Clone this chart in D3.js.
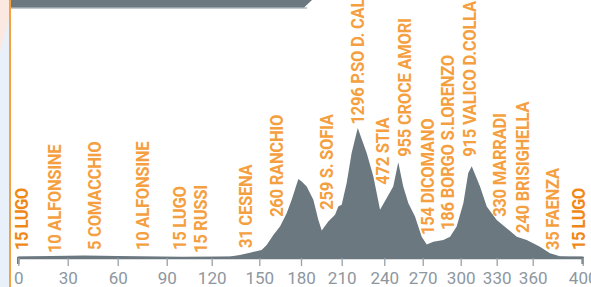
<!DOCTYPE html>
<html>
<head>
<meta charset="utf-8">
<script src="https://cdn.jsdelivr.net/npm/d3@7"></script>
<style>
  html, body { margin: 0; padding: 0; background: #fff; }
  svg { display: block; }
</style>
</head>
<body>
<svg id="chart" width="591" height="287"></svg>
<script>
// ---------- DATA ----------
// x-axis tick values (km)
const tickKm = [0, 30, 60, 90, 120, 150, 180, 210, 240, 270, 300, 330, 360, 400];
const tickLabels = ["0", "30", "60", "90", "120", "150", "180", "210", "240", "270", "300", "330", "360", "400"];

// elevation profile: distance (km) and altitude (m)
const profileKm = [0, 20, 40, 60, 80, 100, 120, 131.5, 137.8, 144.1, 151.7, 155.3, 160.1, 164.9, 169.7, 173.3,
  178.1, 180.5, 184.2, 189.1, 192.8, 195.3, 200.1, 205.1, 207.5, 210, 213.5, 217, 221.3, 227.6, 232.3,
  237, 241.9, 247, 250.9, 254.8, 258.8, 264, 269.2, 273.2, 278.4, 286.3, 291.6, 296.8, 302.2, 306.3,
  309.2, 316.1, 321.7, 330, 338.3, 346.7, 355, 365.8, 373.8, 381.8, 390, 400];
const profileElev = [15, 20, 25, 20, 15, 10, 12, 15, 30, 53, 80, 130, 230, 313, 447, 580,
  787, 763, 713, 580, 380, 275, 363, 430, 513, 530, 747, 1047, 1296, 1047, 813,
  480, 597, 713, 955, 713, 547, 413, 213, 135, 163, 180, 213, 313, 547, 847,
  915, 713, 513, 380, 297, 213, 180, 113, 47, 18, 15, 15];

// place labels
const placeNames = ["15 LUGO", "10 ALFONSINE", "5 COMACCHIO", "10 ALFONSINE", "15 LUGO", "15 RUSSI",
  "31 CESENA", "260 RANCHIO", "259 S. SOFIA", "1296 P.SO D. CALLA", "472 STIA", "955 CROCE AMORI",
  "154 DICOMANO", "186 BORGO S.LORENZO", "915 VALICO D.COLLA", "330 MARRADI", "240 BRISIGHELLA",
  "35 FAENZA", "15 LUGO"];
const placeKm = [2.2, 22.3, 46.4, 75.5, 98.9, 112.9, 141.6, 162.7, 199.2, 221.5, 239.1, 256.2,
  274.2, 290, 307.8, 332.8, 351.9, 376.2, 397];
// altitude (m) at which each label's text begins
const placeLabelBase = [80, 50, 80, 80, 80, 50, 100, 410, 480, 1330, 730, 1010, 230, 280, 1010, 410, 250, 80, 80];
const placeIsEndpoint = [true, false, false, false, false, false, false, false, false, false, false, false,
  false, false, false, false, false, false, true];

// ---------- LAYOUT ----------
const tickPx = [18.3, 67.7, 117.7, 166.7, 211.7, 259.3, 301, 341.7, 384.3, 422.7, 460.7, 496.7, 532.7, 582.7];
const baseY = 258, topY = 128;

const svg = d3.select("#chart");

const x = d3.scaleLinear().domain(tickKm).range(tickPx);
const y = d3.scaleLinear().domain([0, 1296]).range([baseY, topY]);

// left decoration
svg.append("rect").attr("x", 0).attr("y", 0).attr("width", 9).attr("height", 287).attr("fill", "#e8f0f9");
svg.append("polygon").attr("points", "0,0 9,0 9,18 0,52").attr("fill", "#fbe8e0");
svg.append("rect").attr("x", 9).attr("y", 0).attr("width", 2).attr("height", 287).attr("fill", "#f5a244");

// top bar
svg.append("rect").attr("x", 11).attr("y", 7).attr("width", 296).attr("height", 2).attr("fill", "#c3cad0");
svg.append("polygon").attr("points", "11,0 312,0 304,7.5 11,7.5").attr("fill", "#6b7880");

// area profile
const profile = profileKm.map((k, i) => ({ km: k, m: profileElev[i] }));
const area = d3.area()
  .x(d => x(d.km))
  .y0(y(0))
  .y1(d => y(d.m))
  .curve(d3.curveLinear);
svg.append("path").datum(profile).attr("d", area).attr("fill", "#6b7880");

// axis
const axis = d3.axisBottom(x)
  .tickValues(tickKm)
  .tickFormat((d, i) => tickLabels[i])
  .tickSize(8)
  .tickPadding(4);
const gAxis = svg.append("g").attr("transform", `translate(0,${baseY})`).call(axis);
gAxis.select(".domain").attr("stroke", "#6b7880").attr("stroke-width", 2.5)
  .attr("d", `M${x(0)},6V0H${x(400)}V6`);
gAxis.selectAll(".tick line").attr("stroke", "#97a1a9").attr("stroke-width", 1.3);
gAxis.selectAll(".tick text")
  .attr("fill", "#8d979f")
  .attr("font-family", "Roboto, 'Liberation Sans', sans-serif")
  .attr("font-size", 17)
  .attr("dy", "0.85em");

// labels
svg.append("g").selectAll("text")
  .data(placeNames)
  .join("text")
  .attr("transform", (d, i) => `translate(${x(placeKm[i])},${y(placeLabelBase[i])}) rotate(-90) scale(0.95,1)`)
  .attr("dy", "0.36em")
  .attr("text-anchor", "start")
  .attr("font-family", "Roboto, 'Liberation Sans', sans-serif")
  .attr("font-size", 17.5)
  .attr("font-weight", 700)
  .attr("letter-spacing", (d, i) => placeIsEndpoint[i] ? -0.6 : -0.3)
  .attr("fill", (d, i) => placeIsEndpoint[i] ? "#ef8816" : "#f5a040")
  .text(d => d);
</script>
</body>
</html>
